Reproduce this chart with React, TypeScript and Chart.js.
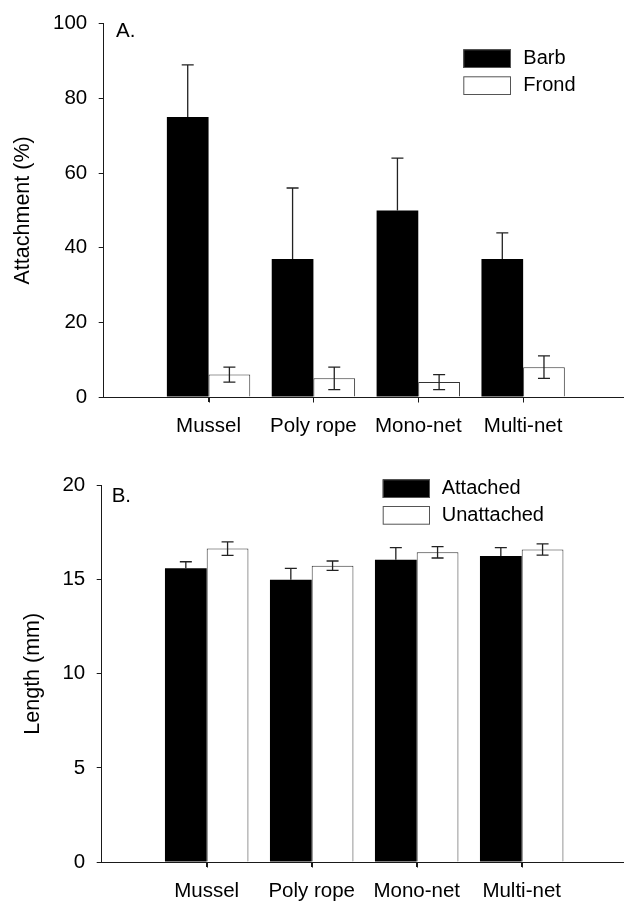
import React, { useEffect, useRef } from 'react';
import { Chart, registerables } from 'chart.js';

Chart.register(...registerables);

// ---- data ----
const categories = ['Mussel', 'Poly rope', 'Mono-net', 'Multi-net'];

const barbMean = [75, 37, 50, 37];
const barbErr = [14, 19, 14, 7];
const frondMean = [6, 5, 4, 8];
const frondErr = [2, 3, 2, 3];

const attachedMean = [15.6, 15.0, 16.05, 16.25];
const attachedErr = [0.35, 0.6, 0.65, 0.45];
const unattachedMean = [16.65, 15.74, 16.45, 16.6];
const unattachedErr = [0.36, 0.25, 0.3, 0.3];

const attachTicks = [0, 20, 40, 60, 80, 100];
const lengthTicks = [0, 5, 10, 15, 20];

const FONT = "'Liberation Sans', Arial, Helvetica, sans-serif";
const INK = '#1a1a1a';

const pad = (arr: number[]) => [null, ...arr, null];

const errorBarPlugin = {
  id: 'errorBars',
  afterDatasetsDraw(chart: any) {
    const { ctx } = chart;
    const yScale = chart.scales.y;
    chart.data.datasets.forEach((ds: any, di: number) => {
      const meta = chart.getDatasetMeta(di);
      const errs = ds.errors || [];
      const solid = ds.backgroundColor === '#000000';
      meta.data.forEach((el: any, i: number) => {
        const v = ds.data[i];
        const e = errs[i];
        if (v == null || e == null) return;
        const x = el.x;
        const yHi = yScale.getPixelForValue(v + e);
        const yLo = yScale.getPixelForValue(solid ? v : v - e);
        ctx.save();
        ctx.strokeStyle = '#222';
        ctx.lineWidth = 1.3;
        ctx.beginPath();
        ctx.moveTo(x, yLo);
        ctx.lineTo(x, yHi);
        ctx.moveTo(x - 6, yHi);
        ctx.lineTo(x + 6, yHi);
        if (!solid) {
          ctx.moveTo(x - 6, yLo);
          ctx.lineTo(x + 6, yLo);
        }
        ctx.stroke();
        ctx.restore();
      });
    });
  },
};

const decorPlugin = {
  id: 'panelDecor',
  afterDraw(chart: any, _args: any, opts: any) {
    const { ctx } = chart;
    const xs = chart.scales.x;
    ctx.save();
    // category tick marks under the axis
    ctx.strokeStyle = INK;
    ctx.lineWidth = 1;
    ctx.beginPath();
    const n = chart.data.labels.length;
    for (let i = 1; i < n - 1; i++) {
      const x = Math.round(xs.getPixelForTick(i)) + 0.5;
      ctx.moveTo(x, xs.top);
      ctx.lineTo(x, xs.top + 5.5);
    }
    ctx.stroke();

    ctx.fillStyle = '#000';
    ctx.font = `20.5px ${FONT}`;
    ctx.textBaseline = 'alphabetic';
    ctx.textAlign = 'left';
    ctx.fillText(opts.letter, opts.letterX, opts.letterY);
    chart.data.datasets.forEach((ds: any, i: number) => {
      const y = opts.legendY + i * opts.legendGap;
      ctx.fillStyle = ds.backgroundColor;
      ctx.fillRect(opts.legendX, y, opts.boxW, opts.boxH);
      ctx.strokeStyle = '#555';
      ctx.lineWidth = 1;
      ctx.strokeRect(opts.legendX + 0.5, y + 0.5, opts.boxW - 1, opts.boxH - 1);
      ctx.fillStyle = '#000';
      ctx.font = `20px ${FONT}`;
      ctx.textBaseline = 'middle';
      ctx.fillText(ds.label, opts.textX, y + opts.boxH / 2);
    });
    ctx.restore();
  },
};

function makeConfig(p: any) {
  const labels = ['', ...categories, ''];
  return {
    type: 'bar',
    data: {
      labels,
      datasets: [
        {
          label: p.s1Label,
          data: pad(p.s1),
          errors: pad(p.e1),
          backgroundColor: '#000000',
          borderColor: '#000000',
          borderWidth: 0,
        },
        {
          label: p.s2Label,
          data: pad(p.s2),
          errors: pad(p.e2),
          backgroundColor: '#ffffff',
          borderColor: '#333333',
          borderWidth: 1,
          borderSkipped: 'start',
        },
      ],
    },
    options: {
      animation: false,
      responsive: false,
      devicePixelRatio: 1,
      layout: { padding: { left: 0, right: p.padRight, top: p.padTop, bottom: 0 } },
      plugins: {
        legend: { display: false },
        tooltip: { enabled: false },
        panelDecor: p.decor,
      },
      datasets: { bar: { categoryPercentage: 0.795, barPercentage: 1.0 } },
      scales: {
        x: {
          offset: false,
          grid: {
            display: true,
            offset: false,
            drawOnChartArea: false,
            drawTicks: true,
            tickLength: 5,
            color: (c: any) => (c.index === 0 || c.index === labels.length - 1 ? 'rgba(0,0,0,0)' : INK),
            lineWidth: 1,
          },
          border: { display: true, color: INK, width: 1 },
          ticks: {
            color: '#000',
            font: { family: FONT, size: 20.5 },
            padding: 12,
            maxRotation: 0,
            autoSkip: false,
          },
          afterFit: (s: any) => {
            s.height = p.xHeight;
          },
        },
        y: {
          min: p.ticks[0],
          max: p.ticks[p.ticks.length - 1],
          ticks: {
            stepSize: p.ticks[1] - p.ticks[0],
            color: '#000',
            font: { family: FONT, size: 20.5 },
            padding: 11.5,
          },
          grid: {
            display: true,
            drawOnChartArea: false,
            drawTicks: true,
            tickLength: 5,
            color: INK,
            lineWidth: 1,
          },
          border: { display: true, color: INK, width: 1 },
          title: {
            display: true,
            text: p.yTitle,
            color: '#000',
            font: { family: FONT, size: 21.5 },
            padding: { top: p.titlePad, bottom: 0 },
          },
          afterFit: (s: any) => {
            s.width = p.yWidth;
          },
        },
      },
    },
    plugins: [errorBarPlugin, decorPlugin],
  } as any;
}

function Panel({ config, top }: { config: any; top: number }) {
  const ref = useRef<HTMLCanvasElement | null>(null);
  useEffect(() => {
    if (!ref.current) return;
    const chart = new Chart(ref.current, config);
    return () => chart.destroy();
  }, [config]);
  return (
    <canvas
      ref={ref}
      width={640}
      height={451}
      style={{ position: 'absolute', left: 0, top, width: 640, height: 451 }}
    />
  );
}

const configA = makeConfig({
  s1Label: 'Barb',
  s2Label: 'Frond',
  s1: barbMean,
  e1: barbErr,
  s2: frondMean,
  e2: frondErr,
  ticks: attachTicks,
  yTitle: 'Attachment (%)',
  titlePad: 10.5,
  yWidth: 103.7,
  padRight: 640 - 628.2,
  padTop: 20.7,
  xHeight: 54,
  decor: {
    letter: 'A.',
    letterX: 116,
    letterY: 37.3,
    legendX: 463.3,
    legendY: 49.3,
    legendGap: 27,
    boxW: 47.7,
    boxH: 18.7,
    textX: 523.3,
  },
});

const configB = makeConfig({
  s1Label: 'Attached',
  s2Label: 'Unattached',
  s1: attachedMean,
  e1: attachedErr,
  s2: unattachedMean,
  e2: unattachedErr,
  ticks: lengthTicks,
  yTitle: 'Length (mm)',
  titlePad: 20,
  yWidth: 101.7,
  padRight: 640 - 626.7,
  padTop: 34.5,
  xHeight: 40,
  decor: {
    letter: 'B.',
    letterX: 111.7,
    letterY: 50.7,
    legendX: 382.7,
    legendY: 28.3,
    legendGap: 26.7,
    boxW: 47.3,
    boxH: 18.7,
    textX: 441.7,
  },
});

export default function App() {
  return (
    <div
      style={{
        position: 'fixed',
        left: 0,
        top: 0,
        width: 624,
        height: 902,
        overflow: 'hidden',
        background: '#fff',
      }}
    >
      <Panel config={configA} top={0} />
      <Panel config={configB} top={451} />
    </div>
  );
}
